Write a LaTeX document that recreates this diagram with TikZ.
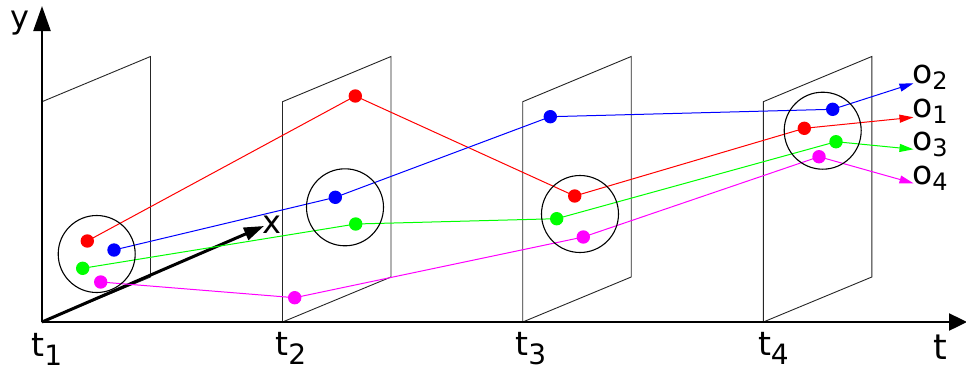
\documentclass[tikz,border=0pt]{standalone}
\usepackage{fontspec}
\setmainfont{DejaVu Sans}
\usetikzlibrary{arrows.meta}
\pgfdeclarelayer{back}
\pgfsetlayers{back,main}
\definecolor{pred}{RGB}{255,0,0}
\definecolor{pblue}{RGB}{0,0,255}
\definecolor{pgreen}{RGB}{0,255,0}
\definecolor{pmag}{RGB}{255,0,255}
\newcommand{\tsub}[1]{t\raisebox{-9pt}{\fontsize{28}{32}\selectfont #1}}
\newcommand{\osub}[1]{o\raisebox{-6.5pt}{\fontsize{24}{28}\selectfont #1}}
\begin{document}
\begin{tikzpicture}[x=1pt,y=-1pt,
  plane/.style={draw=black!85, line width=0.9pt},
  axis/.style={line width=2.4pt, draw=black},
  track/.style={line width=1pt},
  group/.style={draw=black, line width=1.1pt, circle, inner sep=0pt, minimum size=77pt},
  dot/.style={circle, inner sep=0pt, minimum size=13.4pt},
  tiptrack/.style={-{Triangle[length=14pt,width=8pt]}},
  tlab/.style={inner sep=0pt, font=\fontsize{33}{38}\selectfont},
  axlab/.style={inner sep=0pt, font=\fontsize{32}{38}\selectfont},
  olab/.style={inner sep=0pt, font=\fontsize{33}{38}\selectfont},
]
\useasboundingbox (0,0) rectangle (966,370);

% dots
\node[dot, fill=pred]   (r1) at (87.3,241) {};
\node[dot, fill=pblue]  (b1) at (114,250) {};
\node[dot, fill=pgreen] (g1) at (82.7,268.3) {};
\node[dot, fill=pmag]   (m1) at (100.7,282) {};
\node[dot, fill=pred]   (r2) at (355.3,96) {};
\node[dot, fill=pblue]  (b2) at (335.3,197.3) {};
\node[dot, fill=pgreen] (g2) at (355.7,224) {};
\node[dot, fill=pmag]   (m2) at (294.7,297.7) {};
\node[dot, fill=pblue]  (b3) at (550.3,116.7) {};
\node[dot, fill=pred]   (r3) at (574.7,196) {};
\node[dot, fill=pgreen] (g3) at (556.7,218.7) {};
\node[dot, fill=pmag]   (m3) at (583.3,237) {};
\node[dot, fill=pblue]  (b4) at (832.7,109.3) {};
\node[dot, fill=pred]   (r4) at (804.3,128.3) {};
\node[dot, fill=pgreen] (g4) at (836,141.7) {};
\node[dot, fill=pmag]   (m4) at (819,156.7) {};

% arrow ends
\coordinate (e2) at (913.5,83.3);
\coordinate (e1) at (913.5,117.3);
\coordinate (e3) at (913.5,149.3);
\coordinate (e4) at (913.5,183.3);

% axes ends
\coordinate (O) at (42,322);
\coordinate (yend) at (42,6);
\coordinate (tend) at (967,322);
\coordinate (xend) at (264,226);

% labels
\node[axlab] (ylab) at (19.5,23.5) {y};
\node[axlab] (xlab) at (272.2,225) {x};
\node[axlab, font=\fontsize{35}{40}\selectfont] (tlab) at (940.5,347) {t};
\node[tlab, anchor=base west] (t1) at (31.2,356) {\tsub{1}};
\node[tlab, anchor=base west] (t2) at (275.2,355) {\tsub{2}};
\node[tlab, anchor=base west] (t3) at (515.2,355) {\tsub{3}};
\node[tlab, anchor=base west] (t4) at (757.8,355) {\tsub{4}};
\node[olab, anchor=base west] (o2) at (912,83) {\osub{2}};
\node[olab, anchor=base west] (o1) at (912,117) {\osub{1}};
\node[olab, anchor=base west] (o3) at (912,150) {\osub{3}};
\node[olab, anchor=base west] (o4) at (912,184) {\osub{4}};

\begin{pgfonlayer}{back}
  \foreach \X in {42,282.5,522.7,763.3}{
    \draw[plane] (\X,322) -- (\X,101.7) -- ++(108.5,-45.2) -- ++(0,220.5) -- cycle;
  }
  \draw[axis, -{Triangle[length=25pt,width=17pt]}] (O) -- (yend);
  \draw[axis, -{Triangle[length=18pt,width=17pt]}] (O) -- (tend);
  \draw[line width=3pt, -{Triangle[length=20pt,width=13pt]}] (O) -- (xend);

  \draw[track, pred]   (r1.center) -- (r2.center) -- (r3.center) -- (r4.center);
  \draw[track, pblue]  (b1.center) -- (b2.center) -- (b3.center) -- (b4.center);
  \draw[track, pgreen] (g1.center) -- (g2.center) -- (g3.center) -- (g4.center);
  \draw[track, pmag]   (m1.center) -- (m2.center) -- (m3.center) -- (m4.center);
  \draw[track, pred, tiptrack]   (r4.center) -- (e1);
  \draw[track, pblue, tiptrack]  (b4.center) -- (e2);
  \draw[track, pgreen, tiptrack] (g4.center) -- (e3);
  \draw[track, pmag, tiptrack]   (m4.center) -- (e4);

  \node[group] (c1) at (96.7,254) {};
  \node[group] (c2) at (345,207.3) {};
  \node[group] (c3) at (580,214) {};
  \node[group] (c4) at (822.7,130.7) {};
\end{pgfonlayer}
\end{tikzpicture}
\end{document}
